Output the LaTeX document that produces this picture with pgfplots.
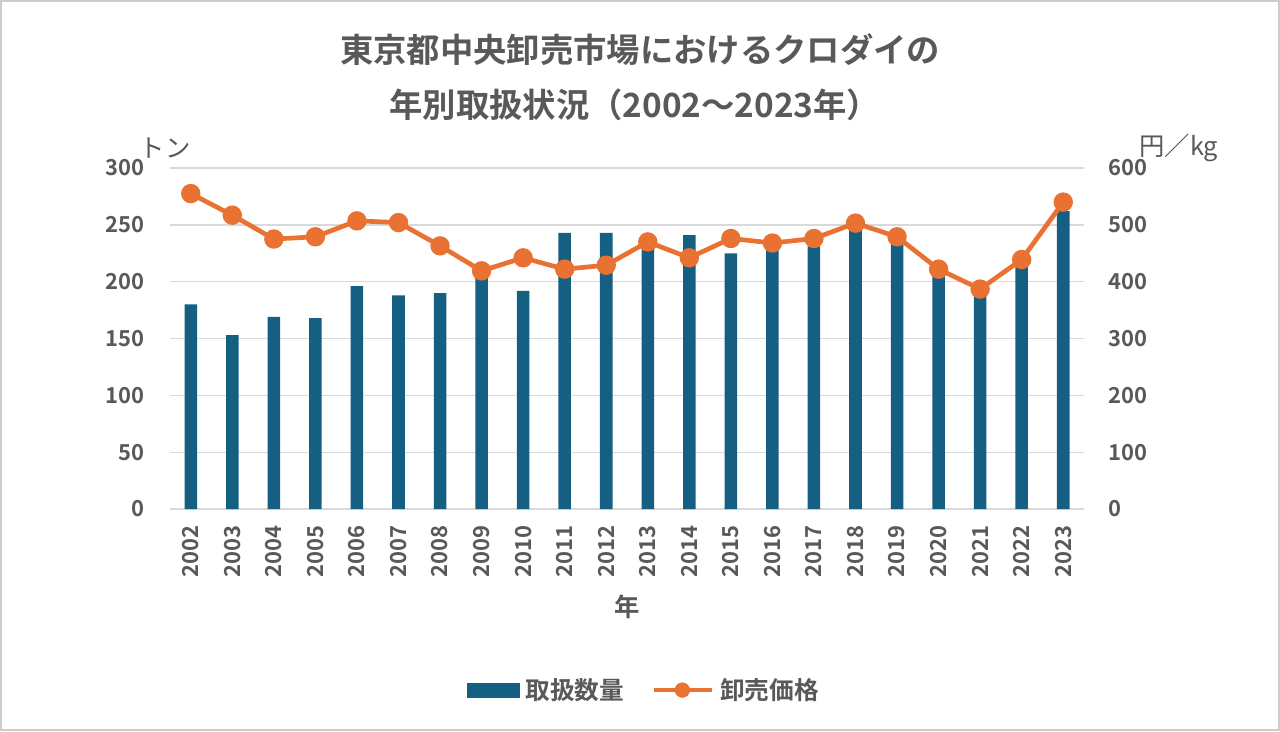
\documentclass[border=0pt]{standalone}
\usepackage{pgfplots}
\pgfplotsset{compat=1.18}
\usepackage{pgfplotstable}
\usepackage{fontspec}
\setmainfont{Noto Sans CJK JP}[BoldFont={Noto Sans CJK JP Bold}]
\definecolor{barc}{HTML}{156082}
\definecolor{linec}{HTML}{E97132}
\definecolor{txt}{HTML}{595959}
\definecolor{gridc}{HTML}{D9D9D9}

\pgfplotstableread{
x year qty price
0 2002 180 555
1 2003 153 517
2 2004 169 475
3 2005 168 479
4 2006 196 507
5 2007 188 504
6 2008 190 463
7 2009 210 419
8 2010 192 442
9 2011 243 422
10 2012 243 429
11 2013 237 470
12 2014 241 442
13 2015 225 476
14 2016 235 468
15 2017 231 476
16 2018 250 503
17 2019 238 479
18 2020 210 422
19 2021 192 387
20 2022 213 439
21 2023 262 540
}\data

\begin{document}
\begin{tikzpicture}
\path[use as bounding box] (0pt,0pt) rectangle (960pt,-548.25pt);
\fill[white] (0pt,0pt) rectangle (960pt,-548.25pt);
\draw[gray!40, line width=1.5pt] (0.75pt,-0.75pt) rectangle (959.25pt,-547.5pt);

\begin{axis}[
  at={(127.5pt,-381.75pt)}, anchor=south west,
  width=685.5pt, height=255.75pt, scale only axis,
  xmin=-0.5, xmax=21.5, ymin=0, ymax=300,
  xtick={0,...,21},
  xticklabels={2002,2003,2004,2005,2006,2007,2008,2009,2010,2011,2012,2013,2014,2015,2016,2017,2018,2019,2020,2021,2022,2023},
  ytick={0,50,...,300},
  /pgf/number format/assume math mode=true,
  major tick length=0pt,
  ymajorgrids, grid style={gridc, line width=1pt},
  axis x line*=bottom, axis y line*=left,
  x axis line style={gridc, line width=1pt, -},
  y axis line style={draw=none},
  ticklabel style={font=\fontsize{16.5}{19}\selectfont\bfseries, text=txt},
  yticklabel style={anchor=east, inner sep=0pt, xshift=-18.75pt},
  xticklabel style={rotate=90, anchor=east, inner sep=0pt, xshift=-12pt},
  ybar, bar width=9.4pt,
]
\addplot[fill=barc, draw=none] table[x=x, y=qty] {\data};
\end{axis}

\begin{axis}[
  at={(127.5pt,-381.75pt)}, anchor=south west,
  width=685.5pt, height=255.75pt, scale only axis,
  xmin=-0.5, xmax=21.5, ymin=0, ymax=600,
  ytick={0,100,...,600},
  /pgf/number format/assume math mode=true,
  major tick length=0pt,
  axis y line*=right, hide x axis,
  y axis line style={draw=none},
  ticklabel style={font=\fontsize{16.5}{19}\selectfont\bfseries, text=txt},
  yticklabel style={anchor=west, inner sep=0pt, xshift=18pt},
  legend style={at={(0.5205,-0.531)}, anchor=center, draw=none, fill=none,
    legend columns=2, font=\fontsize{18.5}{21}\selectfont\bfseries, text=txt,
    /tikz/every even column/.append style={column sep=17pt},
    nodes={inner xsep=4pt}},
]
\addlegendimage{legend image code/.code={\fill[barc] (0pt,-5.25pt) rectangle (39pt,5.25pt);}}
\addlegendentry{取扱数量}
\addlegendimage{legend image code/.code={\draw[linec,line width=3.5pt] (0pt,0pt) -- (43.5pt,0pt); \fill[linec] (21pt,0pt) circle (5.5pt);}}
\addlegendentry{卸売価格}
\addplot[linec, line width=3.5pt, mark=*, mark size=5.5pt, mark options={fill=linec, draw=linec}, forget plot] table[x=x, y=price] {\data};
\end{axis}

\node[font=\fontsize{25}{30}\selectfont\bfseries, text=txt] at (480pt,-37.5pt) {東京都中央卸売市場におけるクロダイの};
\node[font=\fontsize{25}{30}\selectfont\bfseries, text=txt] at (476pt,-78.75pt) {年別取扱状況（2002～2023年）};
\node[font=\fontsize{19}{22}\selectfont, text=txt] at (123.75pt,-111pt) {トン};
\node[font=\fontsize{19}{22}\selectfont, text=txt] at (884pt,-111pt) {円／kg};
\node[font=\fontsize{19}{22}\selectfont\bfseries, text=txt] at (470pt,-455pt) {年};
\end{tikzpicture}
\end{document}
